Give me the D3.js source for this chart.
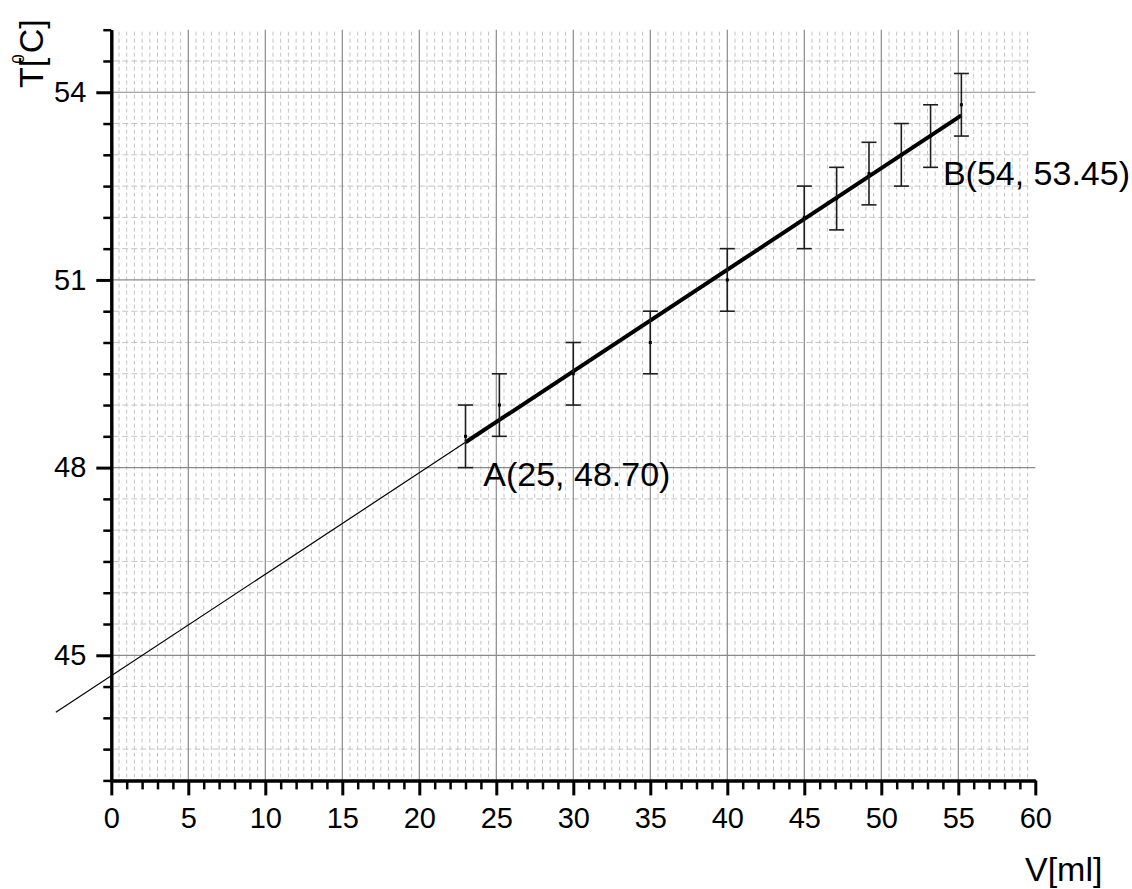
<!DOCTYPE html>
<html>
<head>
<meta charset="utf-8">
<script src="https://cdn.jsdelivr.net/npm/d3@7"></script>
<style>
  body { margin: 0; background: #fff; }
  svg { display: block; font-family: "Liberation Sans", Arial, sans-serif; }
</style>
</head>
<body>
<svg id="chart" width="1132" height="889"></svg>
<script>
// measured points: volume V[ml], temperature T[C] and its error
const volume = [23, 25.2, 30, 35, 40, 45, 47.1, 49.2, 51.3, 53.2, 55.2];
const temperature = [48.5, 49, 49.5, 50, 51, 52, 52.3, 52.7, 53, 53.3, 53.8];
const tempError = [0.5, 0.5, 0.5, 0.5, 0.5, 0.5, 0.5, 0.5, 0.5, 0.5, 0.5];

// axes
const xTickLabels = [0, 5, 10, 15, 20, 25, 30, 35, 40, 45, 50, 55, 60];
const yTickLabels = [45, 48, 51, 54];
const xDomain = [0, 60];
const yDomain = [43, 55];

// fit line is extrapolated back to this volume
const fitFrom = -3.6;

// marked points on the fit
const pointNames = ['A', 'B'];
const pointVolume = [25, 54];
const pointTemp = [48.70, 53.45];

const svg = d3.select('#chart');

const x = d3.scaleLinear().domain(xDomain).range([111.3, 1035.3]);
const y = d3.scaleLinear().domain(yDomain).range([780.4, 29.7]);

const plotTop = y(yDomain[1]), plotBottom = y(yDomain[0]);
const plotLeft = x(xDomain[0]), plotRight = x(xDomain[1]);

// ---- grid ----
const grid = svg.append('g');

// minor grid, every 0.5 on both axes
const minorV = d3.range(xDomain[0] + 0.5, xDomain[1], 0.5).filter(v => v % 5 !== 0);
const minorT = d3.range(yDomain[0] + 0.5, yDomain[1], 0.5).filter(t => t % 3 !== 0);

grid.selectAll('line.minor-v')
  .data(minorV)
  .join('line')
  .attr('class', 'minor-v')
  .attr('x1', d => x(d)).attr('x2', d => x(d))
  .attr('y1', plotTop + 2).attr('y2', plotBottom - 3)
  .attr('stroke', '#c4c4c4')
  .attr('stroke-width', 1)
  .attr('stroke-dasharray', '4,3');

grid.selectAll('line.minor-h')
  .data(minorT)
  .join('line')
  .attr('class', 'minor-h')
  .attr('x1', plotLeft + 2).attr('x2', x(59.6))
  .attr('y1', d => y(d)).attr('y2', d => y(d))
  .attr('stroke', '#c4c4c4')
  .attr('stroke-width', 1)
  .attr('stroke-dasharray', '6,3');

// major grid
grid.selectAll('line.major-v')
  .data(xTickLabels.filter(v => v > xDomain[0] && v < xDomain[1]))
  .join('line')
  .attr('class', 'major-v')
  .attr('x1', d => x(d)).attr('x2', d => x(d))
  .attr('y1', plotTop).attr('y2', plotBottom)
  .attr('stroke', '#8a8a8a')
  .attr('stroke-width', 1.2);

grid.selectAll('line.major-h')
  .data(yTickLabels)
  .join('line')
  .attr('class', 'major-h')
  .attr('x1', plotLeft).attr('x2', plotRight)
  .attr('y1', d => y(d)).attr('y2', d => y(d))
  .attr('stroke', '#8a8a8a')
  .attr('stroke-width', 1.2);

// ---- least squares fit ----
const mx = d3.mean(volume), my = d3.mean(temperature);
const sxy = d3.sum(volume, (v, i) => (v - mx) * (temperature[i] - my));
const sxx = d3.sum(volume, v => (v - mx) * (v - mx));
const slope = sxy / sxx;
const intercept = my - slope * mx;
const fit = v => intercept + slope * v;

const line = d3.line().x(d => x(d)).y(d => y(fit(d)));
const vMin = d3.min(volume), vMax = d3.max(volume);

svg.append('path')
  .attr('d', line([fitFrom, vMin]))
  .attr('fill', 'none')
  .attr('stroke', '#000')
  .attr('stroke-width', 1.2);

svg.append('path')
  .attr('d', line([vMin, vMax]))
  .attr('fill', 'none')
  .attr('stroke', '#000')
  .attr('stroke-width', 4);

// ---- error bars ----
const points = volume.map((v, i) => ({v: v, t: temperature[i], e: tempError[i]}));
const bars = svg.append('g')
  .selectAll('g')
  .data(points)
  .join('g')
  .attr('stroke', '#1e1e1e')
  .attr('stroke-width', 1.6);

bars.append('line')
  .attr('x1', d => x(d.v)).attr('x2', d => x(d.v))
  .attr('y1', d => y(d.t + d.e)).attr('y2', d => y(d.t - d.e));
bars.append('line')
  .attr('x1', d => x(d.v) - 7.5).attr('x2', d => x(d.v) + 7.5)
  .attr('y1', d => y(d.t + d.e)).attr('y2', d => y(d.t + d.e));
bars.append('line')
  .attr('x1', d => x(d.v) - 7.5).attr('x2', d => x(d.v) + 7.5)
  .attr('y1', d => y(d.t - d.e)).attr('y2', d => y(d.t - d.e));
bars.append('rect')
  .attr('x', d => x(d.v) - 1.5).attr('y', d => y(d.t) - 1.5)
  .attr('width', 3).attr('height', 3)
  .attr('stroke', 'none')
  .attr('fill', '#000');

// ---- axes ----
function styleAxis(g, width) {
  g.select('.domain').attr('stroke', '#000').attr('stroke-width', width);
  g.selectAll('.tick line').attr('stroke', '#000');
}

function styleLabels(g) {
  g.selectAll('.tick text')
    .attr('fill', '#000')
    .attr('font-size', 29)
    .attr('font-family', '"Liberation Sans", Arial, sans-serif');
}

const minorX = d3.range(xDomain[0], xDomain[1] + 1, 1).filter(v => v % 5 !== 0);
const minorY = d3.range(yDomain[0], yDomain[1] + 0.5, 0.5).filter(t => t % 3 !== 0);

// x axis
svg.append('g')
  .attr('transform', `translate(0,${plotBottom})`)
  .call(d3.axisBottom(x).tickValues(minorX).tickSize(9).tickSizeOuter(0).tickFormat(''))
  .call(g => styleAxis(g, 3))
  .call(g => g.selectAll('.tick line').attr('stroke-width', 2.5));

svg.append('g')
  .attr('transform', `translate(0,${plotBottom})`)
  .call(d3.axisBottom(x).tickValues(xTickLabels).tickSize(15).tickSizeOuter(0).tickPadding(12))
  .call(g => styleAxis(g, 3))
  .call(g => g.selectAll('.tick line').attr('stroke-width', 3))
  .call(styleLabels);

// y axis
svg.append('g')
  .attr('transform', `translate(${plotLeft},0)`)
  .call(d3.axisLeft(y).tickValues(minorY).tickSize(8).tickSizeOuter(0).tickFormat(''))
  .call(g => styleAxis(g, 3))
  .call(g => g.selectAll('.tick line').attr('stroke-width', 2.5));

svg.append('g')
  .attr('transform', `translate(${plotLeft},0)`)
  .call(d3.axisLeft(y).tickValues(yTickLabels).tickSize(15).tickSizeOuter(0).tickPadding(10))
  .call(g => styleAxis(g, 3))
  .call(g => g.selectAll('.tick line').attr('stroke-width', 3))
  .call(styleLabels);

// axis titles
svg.append('text')
  .attr('x', 1025).attr('y', 881)
  .attr('font-size', 34)
  .text('V[ml]');

const yTitle = svg.append('text')
  .attr('transform', 'translate(43,88) rotate(-90)')
  .attr('font-size', 34);
yTitle.append('tspan').text('T[');
yTitle.append('tspan').attr('font-size', 17).attr('dx', -6).attr('dy', -19).text('0');
yTitle.append('tspan').attr('dx', 1).attr('dy', 19).text('C]');

// ---- point labels ----
const labelOffset = [[-13, 62], [0, 58]];
svg.append('g')
  .selectAll('text')
  .data(pointNames)
  .join('text')
  .attr('x', (d, i) => x(pointVolume[i]) + labelOffset[i][0])
  .attr('y', (d, i) => y(pointTemp[i]) + labelOffset[i][1])
  .attr('font-size', 34)
  .text((d, i) => `${d}(${pointVolume[i]}, ${pointTemp[i].toFixed(2)})`);
</script>
</body>
</html>
